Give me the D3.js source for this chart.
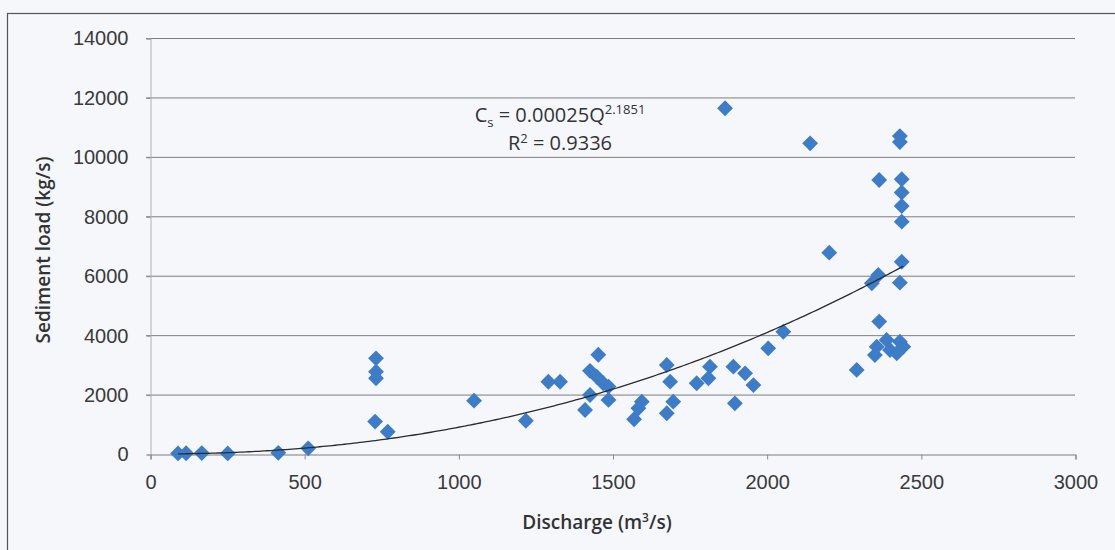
<!DOCTYPE html>
<html>
<head>
<meta charset="utf-8">
<script src="https://cdn.jsdelivr.net/npm/d3@7"></script>
<style>
  html, body { margin: 0; padding: 0; background: #f5f7fb; }
  svg { display: block; font-family: "Open Sans", "Noto Sans", sans-serif; }
  .tick text { fill: #3a3a3a; }
</style>
</head>
<body>
<svg id="chart" width="1115" height="550"></svg>
<script>
  // discharge (m3/s) and sediment load (kg/s)
  const discharge = [
    91, 117, 168, 252, 416, 513,
    733, 733, 733, 730, 771,
    1051, 1219, 1292, 1330,
    1454, 1427, 1449, 1470, 1487, 1427, 1487, 1411,
    1595, 1584, 1570, 1676, 1687, 1697, 1676,
    1773, 1811, 1816, 1892, 1930, 1957, 1897,
    2005, 2054, 1865, 2141,
    2432, 2432, 2365, 2438, 2438, 2438, 2438,
    2203, 2438, 2362, 2341, 2432,
    2365, 2389, 2432, 2357, 2400, 2351, 2422, 2443, 2292
  ];
  const sedimentLoad = [
    20, 25, 30, 20, 40, 190,
    3220, 2770, 2550, 1090, 750,
    1795, 1120, 2430, 2430,
    3340, 2800, 2600, 2380, 2270, 1985, 1820, 1480,
    1760, 1540, 1170, 2995, 2435, 1760, 1370,
    2380, 2550, 2940, 2940, 2715, 2320, 1705,
    3555, 4115, 11635, 10455,
    10700, 10500, 9220, 9245, 8800, 8345, 7820,
    6775, 6470, 6025, 5745, 5765,
    4455, 3835, 3780, 3610, 3500, 3330, 3390, 3610, 2830
  ];

  const xTicks = [0, 500, 1000, 1500, 2000, 2500, 3000];
  const yTicks = [0, 2000, 4000, 6000, 8000, 10000, 12000, 14000];

  // power trendline shown on the chart: Cs = a * Q^b
  const fitA = 0.00025;
  const fitB = 2.1851;
  const fitR2 = 0.9336;

  const plot = { left: 150, right: 1075, top: 38, bottom: 454 };

  const svg = d3.select("#chart");

  // outer chart frame
  svg.append("rect")
    .attr("x", 7.5).attr("y", 13.5)
    .attr("width", 1140).attr("height", 560)
    .attr("fill", "none")
    .attr("stroke", "#555")
    .attr("stroke-width", 1.2);

  const x = d3.scaleLinear().domain([0, 3000]).range([plot.left, plot.right]);
  const y = d3.scaleLinear().domain([0, 14000]).range([plot.bottom, plot.top]);

  // horizontal gridlines
  svg.append("g")
    .selectAll("line")
    .data(yTicks.filter(d => d > 0))
    .join("line")
    .attr("x1", plot.left - 4).attr("x2", plot.right)
    .attr("y1", d => y(d) + 0.5).attr("y2", d => y(d) + 0.5)
    .attr("stroke", "#7d7d7d")
    .attr("stroke-width", 1);

  // y axis
  const yAxis = svg.append("g")
    .attr("transform", `translate(${plot.left + 0.5},0.5)`)
    .call(d3.axisLeft(y).tickValues(yTicks).tickSize(4).tickPadding(18).tickFormat(d3.format("d")));
  yAxis.select(".domain").attr("stroke", "#b0b0b0");
  yAxis.selectAll(".tick line").attr("stroke", "#8a8a8a");
  yAxis.selectAll(".tick text").attr("font-size", 20);

  // x axis
  const xAxis = svg.append("g")
    .attr("transform", `translate(0.5,${plot.bottom + 0.5})`)
    .call(d3.axisBottom(x).tickValues(xTicks).tickSize(5).tickPadding(15).tickFormat(d3.format("d")));
  xAxis.select(".domain").attr("stroke", "#7d7d7d");
  xAxis.selectAll(".tick line").attr("stroke", "#8a8a8a");
  xAxis.selectAll(".tick text").attr("font-size", 20);

  // trendline across the range of the data
  const qMin = d3.min(discharge);
  const qMax = d3.max(discharge);
  const trend = d3.range(qMin, qMax, 10).concat([qMax]).map(q => [q, fitA * Math.pow(q, fitB)]);

  // points
  const pts = discharge.map((q, i) => [q, sedimentLoad[i]]);
  svg.append("g")
    .selectAll("path")
    .data(pts)
    .join("path")
    .attr("transform", d => `translate(${x(d[0])},${y(d[1])})`)
    .attr("d", d3.symbol(d3.symbolDiamond2, 160))
    .attr("fill", "#3f7cc6");

  svg.append("path")
    .datum(trend)
    .attr("fill", "none")
    .attr("stroke", "#2b2b2b")
    .attr("stroke-width", 1.3)
    .attr("d", d3.line().x(d => x(d[0])).y(d => y(d[1])));

  // equation label
  const eq = svg.append("text")
    .attr("x", 560).attr("y", 122)
    .attr("text-anchor", "middle")
    .attr("font-size", 20)
    .attr("fill", "#333");
  eq.append("tspan").text("C");
  eq.append("tspan").attr("font-size", 13).attr("dy", 5).text("s");
  eq.append("tspan").attr("dy", -5).text(" = " + fitA.toFixed(5) + "Q");
  eq.append("tspan").attr("font-size", 13).attr("dy", -8).text(fitB);

  const r2 = svg.append("text")
    .attr("x", 560).attr("y", 150)
    .attr("text-anchor", "middle")
    .attr("font-size", 20)
    .attr("fill", "#333");
  r2.append("tspan").text("R");
  r2.append("tspan").attr("font-size", 13).attr("dy", -7).text("2");
  r2.append("tspan").attr("dy", 7).text(" = " + fitR2);

  // axis titles
  const xt = svg.append("text")
    .attr("x", 597).attr("y", 529)
    .attr("text-anchor", "middle")
    .attr("font-size", 19)
    .attr("font-weight", 600)
    .attr("fill", "#333");
  xt.append("tspan").text("Discharge (m");
  xt.append("tspan").attr("font-size", 12).attr("dy", -7).text("3");
  xt.append("tspan").attr("dy", 7).text("/s)");

  svg.append("text")
    .attr("transform", "translate(50,250) rotate(-90)")
    .attr("text-anchor", "middle")
    .attr("font-size", 19)
    .attr("font-weight", 600)
    .attr("fill", "#333")
    .text("Sediment load (kg/s)");
</script>
</body>
</html>
